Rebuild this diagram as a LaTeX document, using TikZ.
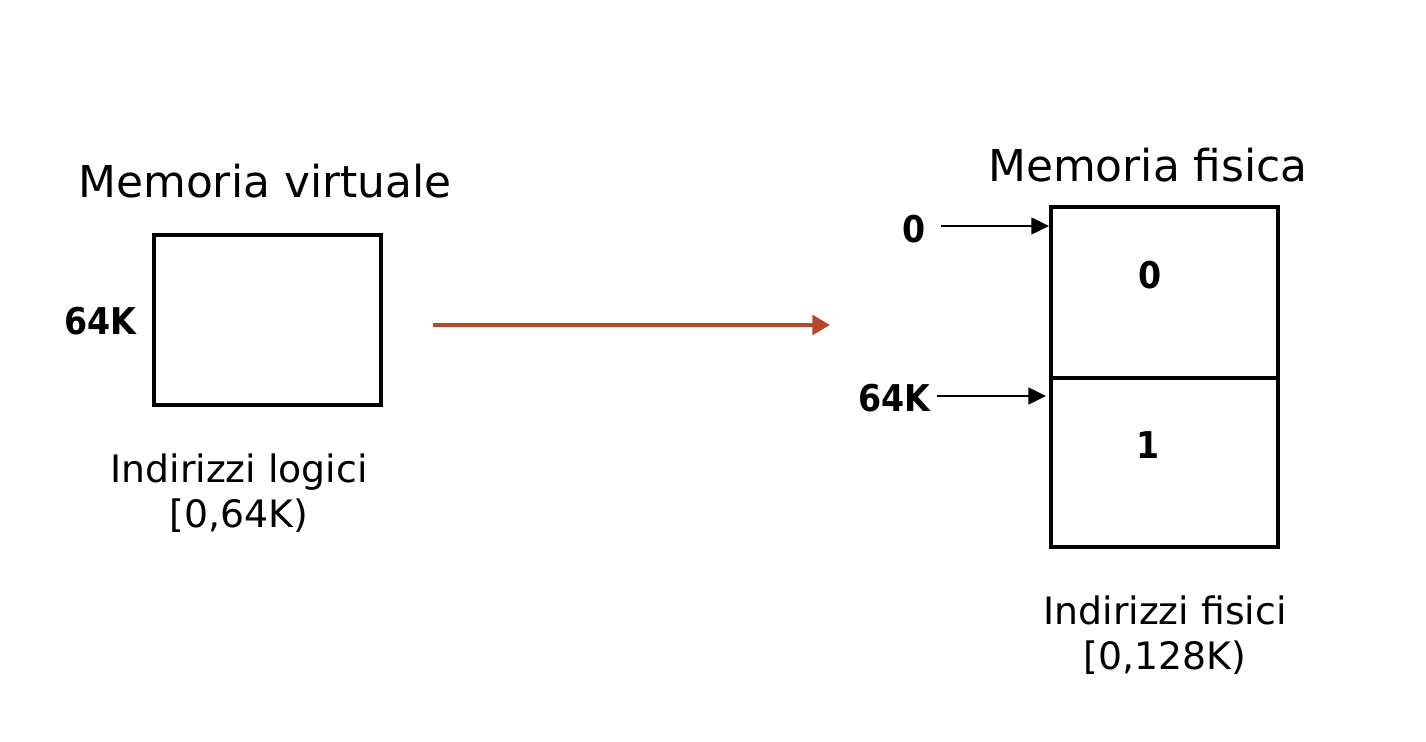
\documentclass[tikz,border=0pt]{standalone}
\usepackage{fontspec}
\setmainfont{DejaVu Sans}
\newfontfamily\lblfont{DejaVu Sans Condensed}
\usetikzlibrary{arrows.meta}
\definecolor{rust}{HTML}{B5472C}
\begin{document}
\begin{tikzpicture}[x=0.02cm,y=-0.02cm,
  membox/.style={draw=black,line width=2pt,minimum width=4.54cm,inner sep=0pt,outer sep=0pt},
  title/.style={font=\fontsize{25}{29}\selectfont,inner sep=0pt},
  caption/.style={font=\fontsize{21.5}{25.6}\selectfont,align=center,inner sep=0pt},
  lbl/.style={font=\lblfont\bfseries\fontsize{21}{22}\selectfont,inner sep=0pt},
  ptr/.style={line width=1.2pt,-{Triangle[length=10pt,width=9.5pt]}},
  maparrow/.style={draw=rust,line width=2.8pt,-{Triangle[length=10pt,width=11pt]}}]
\useasboundingbox (0,0) rectangle (1426,742);
% virtual memory
\node[title] (tv) at (265,181) {Memoria virtuale};
\node[membox,minimum height=3.4cm] (vbox) at (267.5,320) {};
\node[lbl] (v64) at (100,321) {64K};
\node[caption] (cv) at (239,493) {Indirizzi logici\\{[0,64K)}};
% mapping arrow
\coordinate (ms) at (433,325);
\coordinate (me) at (830,325);
\draw[maparrow] (ms) -- (me);
% physical memory
\node[title] (tp) at (1148,165) {Memoria fisica};
\node[membox,minimum height=3.42cm] (p0) at (1164.5,292.5) {};
\node[membox,minimum height=3.38cm] (p1) at (1164.5,462.5) {};
\node[lbl] (in0) at (1150,275) {0};
\node[lbl] (in1) at (1148,445) {1};
\node[lbl] (l0) at (914,229) {0};
\node[lbl] (l64) at (894,398) {64K};
\coordinate (a0s) at (941,226);
\coordinate (a0e) at (1049,226);
\coordinate (a1s) at (937,396);
\coordinate (a1e) at (1046,396);
\draw[ptr] (a0s) -- (a0e);
\draw[ptr] (a1s) -- (a1e);
\node[caption] (cp) at (1165,635) {Indirizzi fisici\\{[0,128K)}};
\end{tikzpicture}
\end{document}
